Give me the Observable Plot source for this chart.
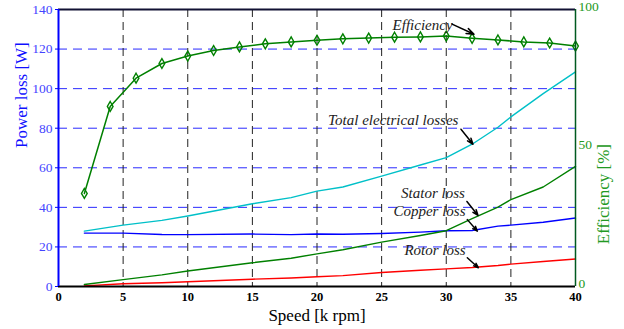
<!DOCTYPE html>
<html>
<head>
<meta charset="utf-8">
<script src="https://cdn.jsdelivr.net/npm/d3@7"></script>
<script src="https://cdn.jsdelivr.net/npm/@observablehq/plot@0.6"></script>
<style>
  html, body { margin: 0; padding: 0; background: white; }
</style>
</head>
<body>
<div id="chart"></div>
<script>
// ---- data ----
const speedLoss = [2, 5, 8, 10, 15, 18, 20, 22, 25, 28, 30, 32, 34, 35, 37.5, 40];
const totalLoss = [28.0, 31.0, 33.4, 35.6, 41.8, 44.9, 48.2, 50.3, 55.8, 61.4, 65.1, 71.9, 80.5, 85.7, 97.5, 108.5];
const copperLoss = [27.0, 27.0, 26.3, 26.2, 26.5, 26.2, 26.5, 26.4, 26.8, 27.5, 28.2, 28.3, 30.5, 31.0, 32.5, 34.6];
const statorLoss = [1.0, 3.5, 5.9, 7.8, 12.0, 14.3, 16.5, 18.6, 22.4, 25.8, 28.2, 34.3, 40.1, 43.9, 50.3, 60.7];
const rotorLoss = [0.3, 1.4, 1.9, 2.4, 3.7, 4.3, 4.9, 5.5, 7.1, 8.2, 8.9, 9.6, 10.6, 11.3, 12.6, 13.9];

const speedEff = [2, 4, 6, 8, 10, 12, 14, 16, 18, 20, 22, 24, 26, 28, 30, 32, 34, 36, 38, 40];
const efficiency = [33.6, 65.0, 75.2, 80.5, 83.2, 85.2, 86.5, 87.6, 88.3, 88.9, 89.4, 89.7, 90.0, 90.1, 90.4, 89.6, 89.0, 88.3, 87.9, 86.8];

const xTicks = [0, 5, 10, 15, 20, 25, 30, 35, 40];
const yTicks = [0, 20, 40, 60, 80, 100, 120, 140];
const effTicks = [0, 50, 100];
const xGrid = [5, 10, 15, 20, 25, 30, 35];
const yGrid = [20, 40, 60, 80, 100, 120];

// annotations (data units: speed, power loss)
const annoText = ["Efficiency", "Total electrical losses", "Stator loss", "Copper loss", "Rotor loss"];
const annoX = [28.17, 25.9, 28.97, 28.7, 29.13];
const annoY = [132.0, 83.9, 47.3, 37.9, 18.6];
const arrowX1 = [30.45, 31.14, 31.6, 31.63, 31.63];
const arrowY1 = [132.6, 79.5, 43.0, 33.8, 14.5];
const arrowX2 = [32.15, 32.07, 32.46, 32.4, 32.48];
const arrowY2 = [127.5, 71.9, 35.9, 28.0, 9.5];

// ---- tables ----
const effScale = 140 / 100; // efficiency % mapped onto the power-loss axis
const seriesDefs = [
  {name: "Total electrical losses", values: totalLoss, color: "#00c0c8"},
  {name: "Copper loss", values: copperLoss, color: "#0000ff"},
  {name: "Stator loss", values: statorLoss, color: "#008000"},
  {name: "Rotor loss", values: rotorLoss, color: "#ff0000"}
];
const lossRows = seriesDefs.flatMap(s => speedLoss.map((x, i) => ({x, y: s.values[i], series: s.name, color: s.color})));
const effRows = speedEff.map((x, i) => ({x, y: efficiency[i] * effScale}));
const annoRows = annoText.map((t, i) => ({t, x: annoX[i], y: annoY[i], x1: arrowX1[i], y1: arrowY1[i], x2: arrowX2[i], y2: arrowY2[i]}));

const font = "'Liberation Serif', 'Times New Roman', serif";

const chart = Plot.plot({
  width: 624,
  height: 329,
  marginLeft: 58,
  marginRight: 49,
  marginTop: 9,
  marginBottom: 43,
  style: {fontFamily: font, background: "white"},
  x: {domain: [0, 40]},
  y: {domain: [0, 140]},
  marks: [
    Plot.ruleY(yGrid, {stroke: "#2a2aff", strokeDasharray: "9,6", strokeWidth: 1}),
    Plot.ruleX(xGrid, {stroke: "#222", strokeDasharray: "8,5", strokeWidth: 1}),
    Plot.line(lossRows, {x: "x", y: "y", z: "series", stroke: "color", strokeWidth: 1.4}),
    Plot.line(effRows, {x: "x", y: "y", stroke: "#008000", strokeWidth: 1.5}),
    Plot.dot(effRows, {x: "x", y: "y", symbol: "diamond", r: 3, stroke: "#008000", fill: "none", strokeWidth: 1.4}),
    Plot.text(annoRows, {x: "x", y: "y", text: "t", fontStyle: "italic", fontSize: 15, fill: "#222", fontFamily: font}),
    Plot.arrow(annoRows, {x1: "x1", y1: "y1", x2: "x2", y2: "y2", stroke: "black", strokeWidth: 1.5, headLength: 8, headAngle: 40}),
    // frame
    Plot.ruleY([0], {stroke: "black", strokeWidth: 2}),
    Plot.ruleY([140], {stroke: "#111133", strokeWidth: 2}),
    Plot.ruleX([0], {stroke: "#0000ff", strokeWidth: 2}),
    Plot.ruleX([40], {stroke: "#005a20", strokeWidth: 1.5}),
    // axes
    Plot.axisX({ticks: xTicks, tickSize: 0, tickPadding: 6, fontWeight: "bold", fontSize: 12.5, fill: "black", fontFamily: font, label: null}),
    Plot.axisY({anchor: "left", ticks: yTicks, tickSize: 3, tickPadding: 3, stroke: "#0000ff", fill: "#4444ff", fontSize: 13.5, fontFamily: font, label: null}),
    Plot.axisY({anchor: "right", ticks: effTicks.map(d => d * effScale), tickFormat: d => Math.round(d / effScale), tickSize: 0, tickPadding: 3, dy: -3, fill: "#229922", fontSize: 13.5, fontFamily: font, label: null}),
    // axis titles
    Plot.text(["Speed [k rpm]"], {text: d => d, frameAnchor: "bottom", lineAnchor: "top", dy: 22, fontSize: 17, fill: "black", fontFamily: font}),
    Plot.text(["Power loss [W]"], {text: d => d, frameAnchor: "left", rotate: -90, dx: -37, fontSize: 17, fill: "#1010ff", fontFamily: font}),
    Plot.text(["Efficiency [%]"], {text: d => d, frameAnchor: "right", rotate: -90, dx: 28, dy: -4, fontSize: 17, fill: "#229922", fontFamily: font})
  ]
});
document.getElementById("chart").appendChild(chart);
</script>
</body>
</html>
